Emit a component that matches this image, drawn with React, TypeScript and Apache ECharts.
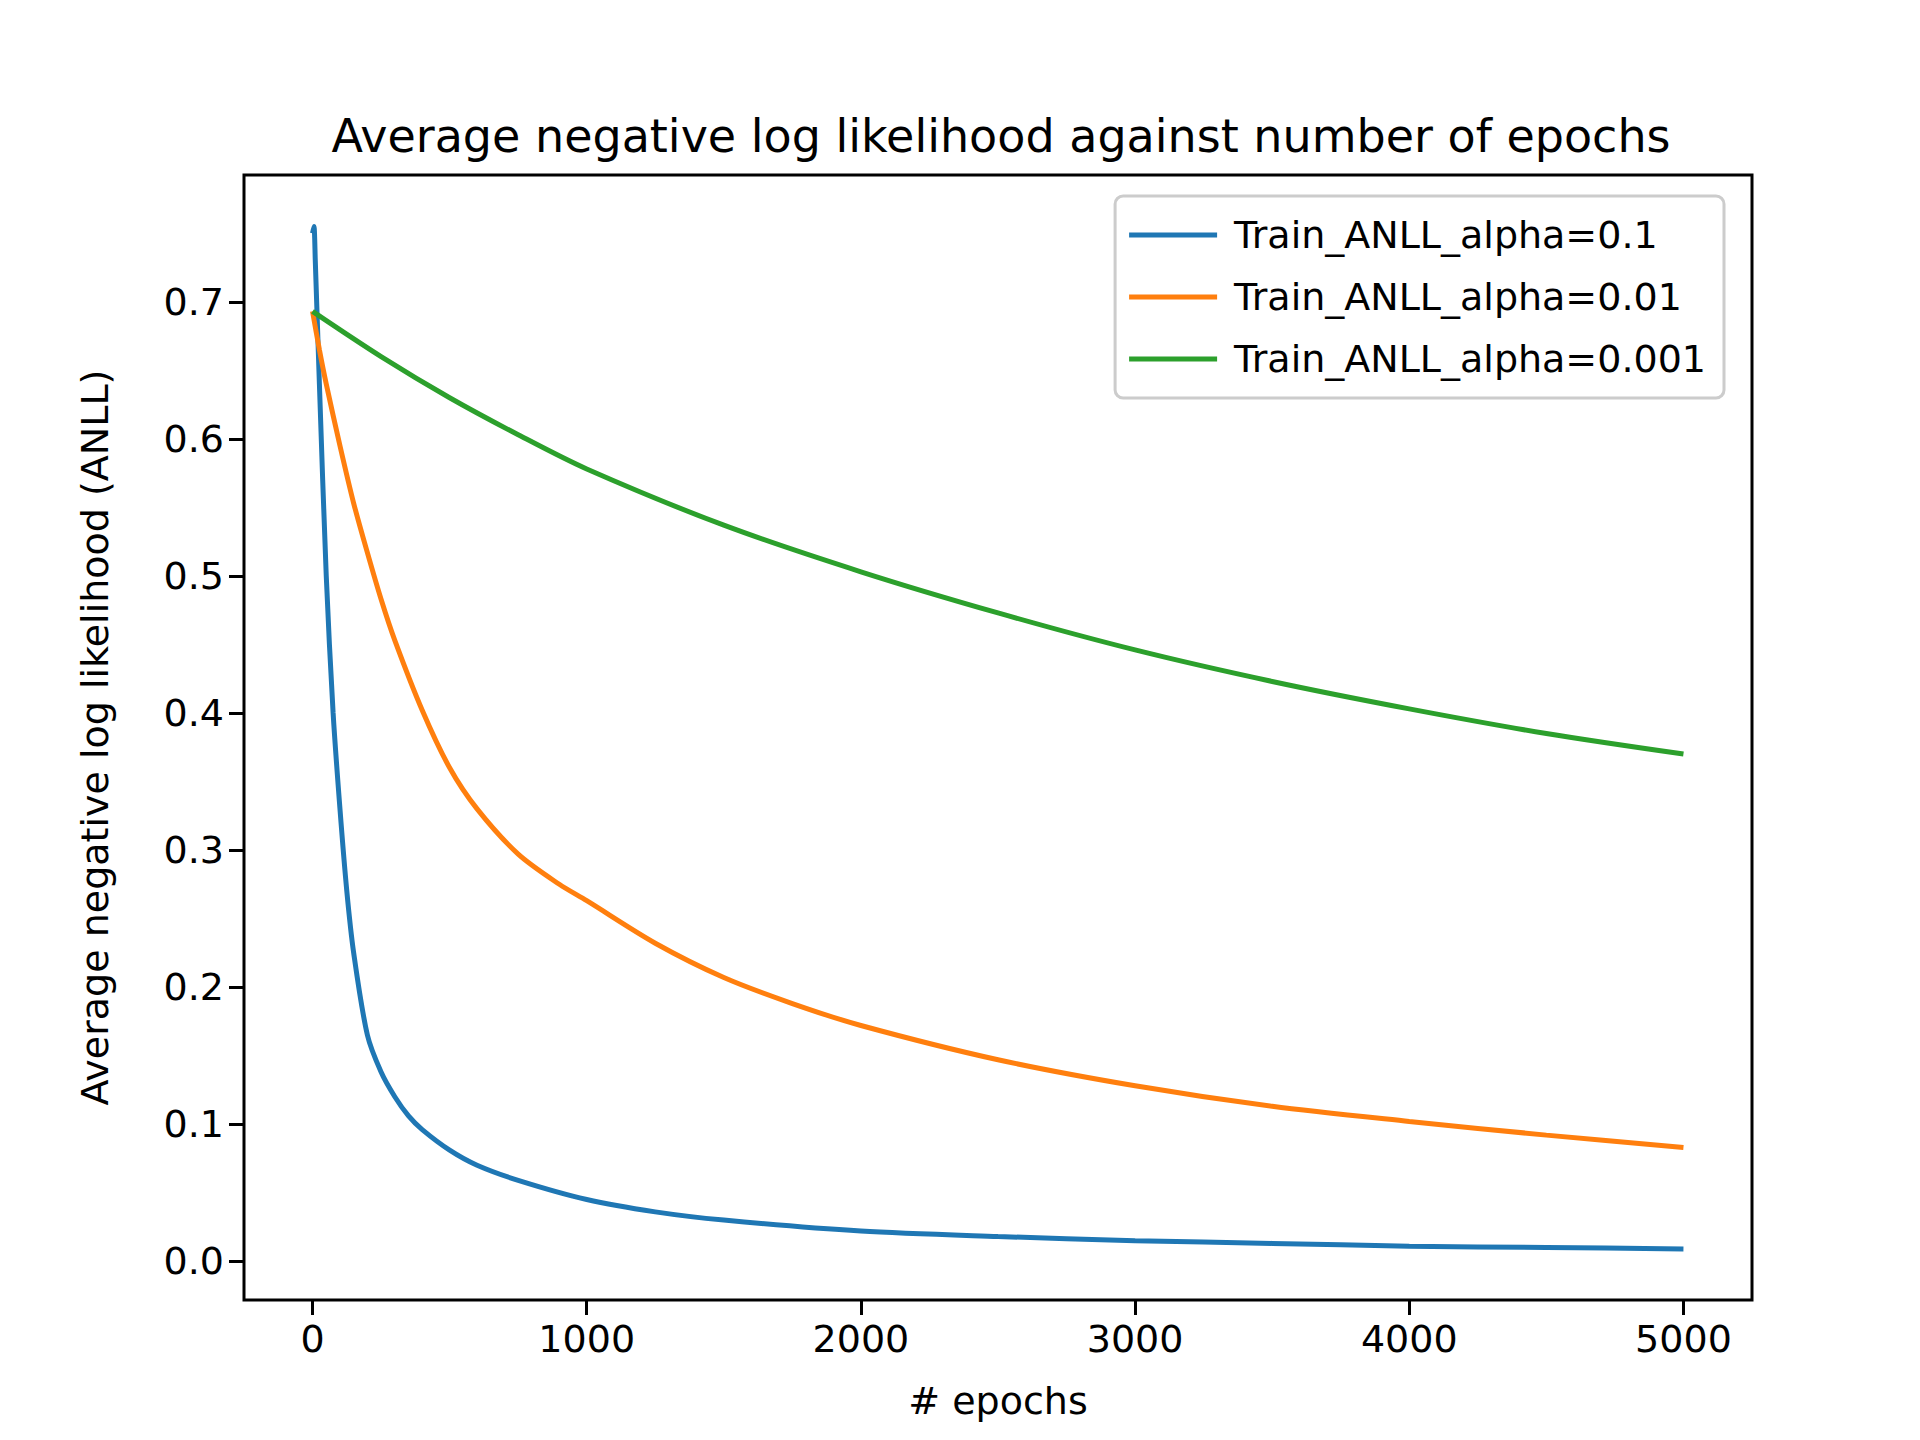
import { useEffect, useRef } from 'react'
import * as echarts from 'echarts'

const epochsBlue = [0, 5, 10, 25, 50, 75, 100, 125, 150, 200, 250, 300, 350, 400, 500, 600, 750, 1000, 1250, 1500, 2000, 2500, 3000, 3500, 4000, 4500, 5000]
const blue = [0.75, 0.755, 0.73, 0.64, 0.5, 0.4, 0.33, 0.27, 0.225, 0.165, 0.138, 0.12, 0.106, 0.096, 0.081, 0.07, 0.059, 0.045, 0.036, 0.03, 0.022, 0.018, 0.015, 0.013, 0.011, 0.01, 0.009]

const epochsOrange = [0, 25, 50, 100, 150, 200, 250, 300, 400, 500, 600, 750, 900, 1000, 1250, 1500, 1750, 2000, 2500, 3000, 3500, 4000, 4500, 5000]
const orange = [0.693, 0.665, 0.64, 0.595, 0.553, 0.517, 0.483, 0.453, 0.402, 0.36, 0.33, 0.297, 0.275, 0.263, 0.232, 0.207, 0.188, 0.172, 0.147, 0.128, 0.113, 0.102, 0.092, 0.083]

const epochsGreen = [0, 250, 500, 750, 1000, 1500, 2000, 2500, 3000, 3500, 4000, 4500, 5000]
const green = [0.693, 0.66, 0.63, 0.603, 0.578, 0.537, 0.503, 0.473, 0.446, 0.423, 0.403, 0.385, 0.37]

const xTicks = [0, 1000, 2000, 3000, 4000, 5000]
const yTicks = [0, 0.1, 0.2, 0.3, 0.4, 0.5, 0.6, 0.7]

const names = ['Train_ANLL_alpha=0.1', 'Train_ANLL_alpha=0.01', 'Train_ANLL_alpha=0.001']
const colors = ['#1f77b4', '#ff7f0e', '#2ca02c']

const pairs = (xs: number[], ys: number[]) => xs.map((x, i) => [x, ys[i]])

const App = () => {
  const ref = useRef<HTMLDivElement>(null)

  useEffect(() => {
    if (!ref.current) return
    const chart = echarts.init(ref.current, null, { renderer: 'svg' })
    const font = 'DejaVu Sans'
    const tick = { show: true, length: 15, lineStyle: { color: '#000', width: 3 } }
    chart.setOption({
      animation: false,
      backgroundColor: '#fff',
      textStyle: { fontFamily: font },
      title: {
        text: 'Average negative log likelihood against number of epochs',
        left: 996, top: 108, textAlign: 'center',
        textStyle: { fontFamily: font, fontSize: 46, fontWeight: 'normal', color: '#000' },
      },
      grid: { left: 244, right: 168, top: 175, bottom: 140, show: true, borderColor: '#000', borderWidth: 3 },
      legend: {
        orient: 'vertical', right: 196, top: 196,
        data: names,
        icon: 'rect', itemWidth: 88, itemHeight: 5, itemGap: 24,
        padding: [20, 18, 20, 14],
        borderColor: '#ccc', borderWidth: 3, borderRadius: 8,
        textStyle: { fontFamily: font, fontSize: 38, color: '#000', padding: [0, 0, 0, 12] },
      },
      xAxis: {
        type: 'value', min: -250, max: 5250,
        name: '# epochs', nameLocation: 'middle', nameGap: 82,
        nameTextStyle: { fontFamily: font, fontSize: 38, color: '#000' },
        splitLine: { show: false },
        axisLine: { show: false, onZero: false },
        axisTick: { ...tick, customValues: xTicks },
        axisLabel: { fontFamily: font, fontSize: 38, color: '#000', margin: 20, customValues: xTicks, formatter: (v: number) => String(v) },
      },
      yAxis: {
        type: 'value', min: -0.0283, max: 0.7925,
        name: 'Average negative log likelihood (ANLL)', nameLocation: 'middle', nameGap: 130,
        nameTextStyle: { fontFamily: font, fontSize: 38, color: '#000' },
        splitLine: { show: false },
        axisLine: { show: false, onZero: false },
        axisTick: { ...tick, customValues: yTicks },
        axisLabel: {
          fontFamily: font, fontSize: 38, color: '#000', margin: 20, customValues: yTicks,
          formatter: (v: number) => v.toFixed(1),
        },
      },
      series: [
        { name: names[0], type: 'line', data: pairs(epochsBlue, blue) },
        { name: names[1], type: 'line', data: pairs(epochsOrange, orange) },
        { name: names[2], type: 'line', data: pairs(epochsGreen, green) },
      ].map((s, i) => ({
        ...s, smooth: 0.3, showSymbol: false, color: colors[i],
        lineStyle: { width: 5, color: colors[i] },
      })),
    })
    return () => chart.dispose()
  }, [])

  return <div ref={ref} style={{ position: 'fixed', left: 0, top: 0, width: 1920, height: 1440, background: '#fff' }} />
}

export default App
